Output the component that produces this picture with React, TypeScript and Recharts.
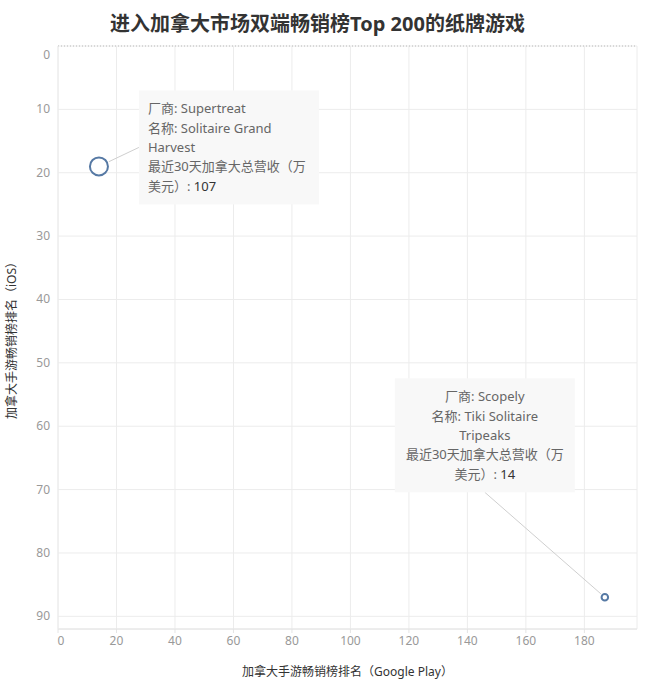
import React from "react";
import { ScatterChart, Scatter, XAxis, YAxis, ZAxis, CartesianGrid, ReferenceLine } from "recharts";

// 进入加拿大市场双端畅销榜 Top 200 的纸牌游戏
const vendors = ["Supertreat", "Scopely"];
const gameNames = ["Solitaire Grand Harvest", "Tiki Solitaire Tripeaks"];
const googlePlayRanks = [14, 187];
const iosRanks = [19, 87];
const revenues = [107, 14]; // 最近30天加拿大总营收（万美元）

const xTicks = [0, 20, 40, 60, 80, 100, 120, 140, 160, 180];
const yTicks = [0, 10, 20, 30, 40, 50, 60, 70, 80, 90];

const data = vendors.map((vendor, i) => ({
  vendor,
  name: gameNames[i],
  gp: googlePlayRanks[i],
  ios: iosRanks[i],
  revenue: revenues[i],
}));

const FONT = "'Noto Sans', 'Noto Sans CJK SC', sans-serif";
const MARK = "#5679a4";

// where each callout box sits relative to its point
const callouts = [
  { dx: 40, dy: -76, align: "start" },
  { dx: -210, dy: -219, align: "middle" },
];
const BOX_W = 180;
const BOX_H = 114;

function wrap(text: string, max: number): string[] {
  const lines: string[] = [];
  let cur = "";
  for (const w of text.split(" ")) {
    const next = cur ? cur + " " + w : w;
    if (next.length > max && cur) {
      lines.push(cur);
      cur = w;
    } else cur = next;
  }
  if (cur) lines.push(cur);
  return lines;
}

function BubbleWithCallout(props: any) {
  const { cx, cy, payload, index } = props;
  const size = props.size ?? 100;
  const r = Math.sqrt(size / Math.PI);
  const c = callouts[index] ?? callouts[0];
  const left = cx + c.dx;
  const top = cy + c.dy;
  const ax = c.align === "start" ? left : left + BOX_W / 2;
  const ay = c.align === "start" ? top + BOX_H / 2 : top + BOX_H;
  const len = Math.hypot(ax - cx, ay - cy);
  const sx = cx + ((ax - cx) / len) * (r + 2);
  const sy = cy + ((ay - cy) / len) * (r + 2);
  const lines = [`厂商: ${payload.vendor}`, ...wrap(`名称: ${payload.name}`, 20), "最近30天加拿大总营收（万"];
  const tx = c.align === "start" ? left + 9 : left + BOX_W / 2;
  return (
    <g>
      <line x1={sx} y1={sy} x2={ax} y2={ay} stroke="#cfcfcf" strokeWidth={1} />
      <rect x={left} y={top} width={BOX_W} height={BOX_H} fill="#f8f8f8" />
      {lines.map((ln, i) => (
        <text
          key={i}
          x={tx}
          y={top + 23 + i * 19.3}
          fontSize={13}
          fontFamily={FONT}
          fill="#666"
          textAnchor={c.align}
        >
          {ln}
        </text>
      ))}
      <text
        x={tx}
        y={top + 23 + lines.length * 19.3}
        fontSize={13}
        fontFamily={FONT}
        fill="#666"
        textAnchor={c.align}
      >
        <tspan>美元）: </tspan>
        <tspan fill="#333">{payload.revenue}</tspan>
      </text>
      <circle cx={cx} cy={cy} r={r} fill="#fff" fillOpacity={0.6} stroke={MARK} strokeWidth={2} />
    </g>
  );
}

function XTick(props: any) {
  const { x, y, payload } = props;
  return (
    <text x={x + (payload.value === 0 ? 3 : 0)} y={y + 10} fontSize={12} fontFamily={FONT} fill="#999" textAnchor="middle">
      {payload.value}
    </text>
  );
}

function YTick(props: any) {
  const { x, y, payload } = props;
  return (
    <text x={x} y={y + 4 + (payload.value === 0 ? 9 : 0)} fontSize={12} fontFamily={FONT} fill="#999" textAnchor="end">
      {payload.value}
    </text>
  );
}

function XTitle(props: any) {
  const vb = props.viewBox ?? { x: 58, y: 629, width: 579, height: 55 };
  return (
    <text x={vb.x + vb.width / 2} y={vb.y + 47} fontSize={12} fontFamily={FONT} fill="#333" textAnchor="middle">
      加拿大手游畅销榜排名（Google Play）
    </text>
  );
}

function YTitle(props: any) {
  const vb = props.viewBox ?? { x: 0, y: 46, width: 58, height: 583 };
  const cx = 16;
  const cy = vb.y + vb.height / 2;
  return (
    <text
      x={cx}
      y={cy}
      transform={`rotate(-90 ${cx} ${cy})`}
      fontSize={12}
      fontFamily={FONT}
      fill="#333"
      textAnchor="middle"
    >
      加拿大手游畅销榜排名（iOS）
    </text>
  );
}

export default function App() {
  return (
    <div style={{ position: "absolute", left: 0, top: 0, width: 647, height: 684, background: "#fff" }}>
      <div
        style={{
          position: "absolute",
          left: 0,
          top: 8,
          width: 635,
          textAlign: "center",
          fontFamily: FONT,
          fontWeight: 700,
          fontSize: 20,
          lineHeight: "32px",
          color: "#333",
        }}
      >
        进入加拿大市场双端畅销榜Top 200的纸牌游戏
      </div>
      <ScatterChart width={647} height={684} margin={{ top: 46, right: 10, left: 0, bottom: 0 }}>
        <CartesianGrid stroke="#ececec" horizontal vertical />
        <XAxis
          type="number"
          dataKey="gp"
          domain={[0, 198]}
          ticks={xTicks}
          allowDataOverflow
          height={55}
          axisLine={{ stroke: "#e4e4e4" }}
          tickLine={{ stroke: "#e4e4e4" }}
          tickSize={4}
          tick={<XTick />}
          label={<XTitle />}
        />
        <YAxis
          type="number"
          dataKey="ios"
          domain={[0, 92]}
          ticks={yTicks}
          reversed
          allowDataOverflow
          width={58}
          axisLine={{ stroke: "#ececec" }}
          tickLine={false}
          tickSize={0}
          tickMargin={8}
          tick={<YTick />}
          label={<YTitle />}
        />
        <ZAxis type="number" dataKey="revenue" domain={[0, 107]} range={[0, 255]} />
        <ReferenceLine y={0} stroke="#bbb" strokeDasharray="1 2" />
        <Scatter data={data} shape={<BubbleWithCallout />} isAnimationActive={false} />
      </ScatterChart>
    </div>
  );
}
